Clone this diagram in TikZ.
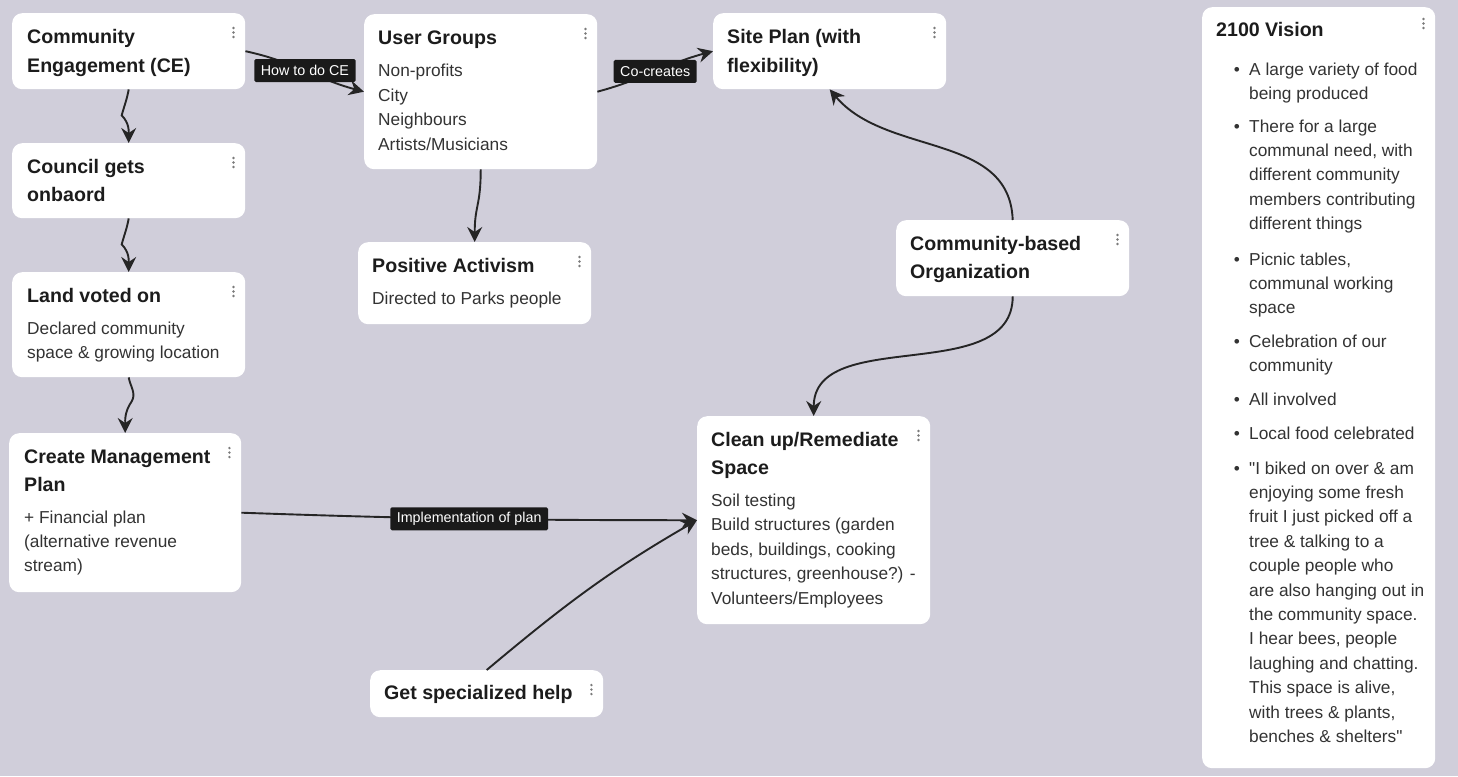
\documentclass[tikz,border=0pt]{standalone}
\usepackage{fontspec}
\setmainfont[Ligatures=TeXOff]{Liberation Sans}
\usetikzlibrary{arrows.meta}
\definecolor{bg}{HTML}{D0CEDA}
\definecolor{ink}{HTML}{1C1C1C}
\definecolor{bodyc}{HTML}{333333}
\definecolor{dotc}{HTML}{7A7A7A}
\definecolor{connc}{HTML}{252525}
\definecolor{lblc}{HTML}{1A1A1A}
\tikzset{
  card/.style={fill=white, rounded corners=10pt, draw=none, anchor=north west, inner sep=0pt},
  ttl/.style={anchor=base west, inner sep=0pt, font=\fontsize{19.6}{28}\selectfont\bfseries, text=ink},
  bod/.style={anchor=base west, inner sep=0pt, font=\fontsize{17.3}{24.4}\selectfont, text=bodyc},
  lbl/.style={fill=lblc, text=white, font=\fontsize{14.3}{16}\selectfont, inner xsep=6.5pt, inner ysep=0pt, minimum height=23pt, rounded corners=1.5pt},
  conn/.style={draw=connc, line width=1.9pt, -{Stealth[length=15pt,width=15pt,inset=5pt]}},
}
\newcommand\mydots[1]{\foreach \d in {15,19.5,24} \fill[dotc] ([shift={(-12,\d)}]#1.north east) circle (1.35pt);}
\newcommand\mytitle[4]{\node[ttl] (#1) at (#2,#3) {#4};}
\newcommand\mybody[4]{\node[bod] (#1) at (#2,#3) {#4};}
\newcommand\mybullet[2]{\node[bod,anchor=base] (#1) at (1237,#2) {•};}
\begin{document}
\begin{tikzpicture}[x=1pt,y=-1pt]
\fill[bg] (0,0) rectangle (1458,776);
\useasboundingbox (0,0) rectangle (1458,776);

% cards
\node[card, minimum width=233pt, minimum height=76pt] (ce) at (12,13) {};
\node[card, minimum width=233pt, minimum height=75pt] (council) at (12,143) {};
\node[card, minimum width=233pt, minimum height=105pt] (land) at (12,272) {};
\node[card, minimum width=232pt, minimum height=159pt] (create) at (9,433) {};
\node[card, minimum width=233pt, minimum height=155pt] (ug) at (364,14) {};
\node[card, minimum width=233pt, minimum height=82pt] (pa) at (358,242) {};
\node[card, minimum width=233pt, minimum height=76pt] (site) at (713,13) {};
\node[card, minimum width=233pt, minimum height=76pt] (cbo) at (896,220) {};
\node[card, minimum width=233pt, minimum height=208pt] (clean) at (697,416) {};
\node[card, minimum width=233pt, minimum height=47pt] (help) at (370,670) {};
\node[card, minimum width=233pt, minimum height=761pt] (vision) at (1202,7) {};

\mydots{ce}\mydots{council}\mydots{land}\mydots{create}\mydots{ug}\mydots{pa}
\mydots{site}\mydots{cbo}\mydots{clean}\mydots{help}
\foreach \d in {12,16.5,21} \fill[dotc] ([shift={(-12,\d)}]vision.north east) circle (1.35pt);

% texts
\mytitle{ce1}{27}{43.5}{Community}
\mytitle{ce2}{27}{72}{Engagement (CE)}
\mytitle{co1}{27}{173.5}{Council gets}
\mytitle{co2}{27}{201.5}{onbaord}
\mytitle{la1}{27}{302}{Land voted on}
\mybody{la2}{27}{334}{Declared community}
\mybody{la3}{27}{358}{space \& growing location}
\mytitle{cr1}{24}{463}{Create Management}
\mytitle{cr2}{24}{491}{Plan}
\mybody{cr3}{24}{523}{+ Financial plan}
\mybody{cr4}{24}{547}{(alternative revenue}
\mybody{cr5}{24}{571}{stream)}
\mytitle{ug1}{378}{45}{User Groups}
\mybody{ug2}{378}{77}{Non-profits}
\mybody{ug3}{378}{101}{City}
\mybody{ug4}{378}{125}{Neighbours}
\mybody{ug5}{378}{150}{Artists/Musicians}
\mytitle{pa1}{372}{272}{Positive Activism}
\mybody{pa2}{372}{304}{Directed to Parks people}
\mytitle{si1}{727}{43.5}{Site Plan (with}
\mytitle{si2}{727}{72}{flexibility)}
\mytitle{cb1}{910}{250}{Community-based}
\mytitle{cb2}{910}{278}{Organization}
\mytitle{cl1}{711}{446}{Clean up/Remediate}
\mytitle{cl2}{711}{474}{Space}
\mybody{cl3}{711}{506}{Soil testing}
\mybody{cl4}{711}{530}{Build structures (garden}
\mybody{cl5}{711}{555}{beds, buildings, cooking}
\mybody{cl6}{711}{579}{structures, greenhouse?) -}
\mybody{cl7}{711}{604}{Volunteers/Employees}
\mytitle{he1}{384}{699}{Get specialized help}

\mytitle{vi0}{1216}{37}{2100 Vision}
\mybullet{vb1}{75}
\mybody{vi1}{1249}{75}{A large variety of food}
\mybody{vi2}{1249}{99.4}{being produced}
\mybullet{vb2}{132}
\mybody{vi3}{1249}{132}{There for a large}
\mybody{vi4}{1249}{156.4}{communal need, with}
\mybody{vi5}{1249}{180.8}{different community}
\mybody{vi6}{1249}{205.2}{members contributing}
\mybody{vi7}{1249}{229.6}{different things}
\mybullet{vb3}{265}
\mybody{vi8}{1249}{265}{Picnic tables,}
\mybody{vi9}{1249}{289.4}{communal working}
\mybody{vi10}{1249}{313.8}{space}
\mybullet{vb4}{347}
\mybody{vi11}{1249}{347}{Celebration of our}
\mybody{vi12}{1249}{371.4}{community}
\mybullet{vb5}{405}
\mybody{vi13}{1249}{405}{All involved}
\mybullet{vb6}{439}
\mybody{vi14}{1249}{439}{Local food celebrated}
\mybullet{vb7}{474}
\mybody{vi15}{1249}{474}{"I biked on over \& am}
\mybody{vi16}{1249}{498.4}{enjoying some fresh}
\mybody{vi17}{1249}{522.8}{fruit I just picked off a}
\mybody{vi18}{1249}{547.2}{tree \& talking to a}
\mybody{vi19}{1249}{571.6}{couple people who}
\mybody{vi20}{1249}{596}{are also hanging out in}
\mybody{vi21}{1249}{620.4}{the community space.}
\mybody{vi22}{1249}{644.8}{I hear bees, people}
\mybody{vi23}{1249}{669.2}{laughing and chatting.}
\mybody{vi24}{1249}{693.6}{This space is alive,}
\mybody{vi25}{1249}{718}{with trees \& plants,}
\mybody{vi26}{1249}{742.4}{benches \& shelters"}

% connectors
\draw[conn] (ce.east) to[out=-12,in=165] node[lbl] (lhow) {How to do CE} (ug.west);
\draw[conn] (ug.east) to[out=15,in=-165] node[lbl] (lco) {Co-creates} (site.west);
\draw[conn] (create.east) to[out=-2,in=180] node[lbl] (limp) {Implementation of plan} (clean.west);
\draw[conn] (help.north) to[out=40,in=-150] (clean.west);
\draw[conn] (ce.south) to[out=-100,in=75] ++(-7,26) to[out=-45,in=90] (council.north);
\draw[conn] (council.south) to[out=-100,in=75] ++(-7,26) to[out=-45,in=90] (land.north);
\draw[conn] (land.south) to[out=-80,in=60] ++(3,24) to[out=-125,in=90] (create.north);
\draw[conn] (ug.south) to[out=-90,in=90,looseness=1.3] (pa.north);
\draw[conn] (cbo.north) to[out=92,in=-50] (site.south);
\draw[conn] (cbo.south) to[out=-90,in=90] (clean.north);
\end{tikzpicture}
\end{document}
